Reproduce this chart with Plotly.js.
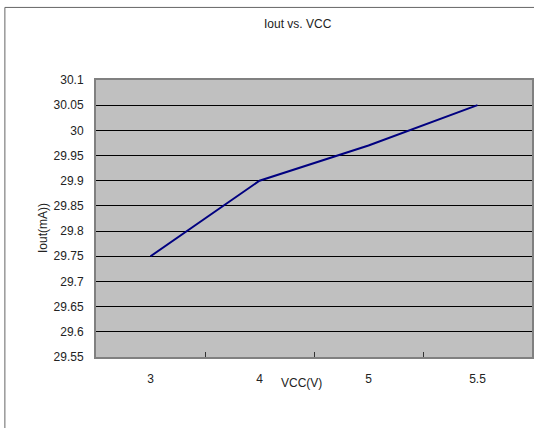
<!DOCTYPE html>
<html>
<head>
<meta charset="utf-8">
<script src="https://cdn.plot.ly/plotly-3.0.1.min.js"></script>
<style>html,body{margin:0;padding:0;background:#fff;}#chart{width:534px;height:428px;}</style>
</head>
<body>
<div id="chart"></div>
<script>
const vccLabels = ["3", "4", "5", "5.5"];
const ioutValues = [29.75, 29.90, 29.97, 30.05];
const yTicks = [29.55, 29.6, 29.65, 29.7, 29.75, 29.8, 29.85, 29.9, 29.95, 30, 30.05, 30.1];
const yTickText = ["29.55", "29.6", "29.65", "29.7", "29.75", "29.8", "29.85", "29.9", "29.95", "30", "30.05", "30.1"];

const font = {family: "Liberation Sans, Arial, sans-serif", size: 12, color: "#222"};

Plotly.newPlot("chart", [{
  x: vccLabels,
  y: ioutValues,
  type: "scatter",
  mode: "lines",
  line: {color: "#000080", width: 2},
  hoverinfo: "skip"
}], {
  width: 534, height: 428,
  margin: {l: 96, r: 2, t: 80, b: 71},
  paper_bgcolor: "#fff",
  plot_bgcolor: "#c0c0c0",
  font: font,
  showlegend: false,
  xaxis: {
    type: "category",
    range: [-0.5, 3.5],
    tickson: "boundaries",
    ticks: "inside",
    ticklen: 5,
    tickcolor: "#333",
    showgrid: false,
    showline: true, mirror: true, linecolor: "#808080", linewidth: 2,
    ticklabelstandoff: 10,
    tickfont: font,
    zeroline: false
  },
  yaxis: {
    range: [29.55, 30.1],
    tickvals: yTicks,
    ticktext: yTickText,
    ticks: "",
    showgrid: true, gridcolor: "#000", gridwidth: 1,
    showline: true, mirror: true, linecolor: "#808080", linewidth: 2,
    ticklabelstandoff: 8,
    tickfont: font,
    zeroline: false
  },
  shapes: [{
    type: "rect", xref: "paper", yref: "paper",
    x0: -0.209, x1: 1.2, y0: -0.4, y1: 1.262,
    line: {color: "#666", width: 1}, fillcolor: "rgba(0,0,0,0)", layer: "below"
  }],
  annotations: [
    {text: "Iout vs. VCC", xref: "paper", yref: "paper", x: (298-96)/436, y: (357-24)/277, showarrow: false, font: font, xanchor: "center", yanchor: "middle"},
    {text: "VCC(V)", xref: "paper", yref: "paper", x: (301-96)/436, y: (357-383)/277, showarrow: false, font: font, xanchor: "center", yanchor: "middle"},
    {text: "Iout(mA))", xref: "paper", yref: "paper", x: (43-96)/436, y: (357-228)/277, showarrow: false, font: font, textangle: -90, xanchor: "center", yanchor: "middle"}
  ]
}, {staticPlot: true, displayModeBar: false});
</script>
</body>
</html>
